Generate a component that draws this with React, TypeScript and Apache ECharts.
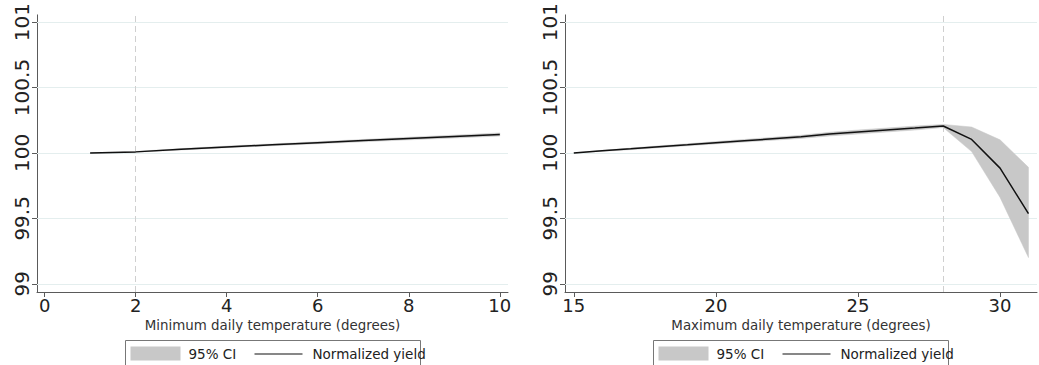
import React, { useEffect, useRef } from "react";
import * as echarts from "echarts";

// Left panel: minimum daily temperature
const minTemp = [1, 2, 3, 4, 5, 6, 7, 8, 9, 10];
const minYield = [100, 100.008, 100.028, 100.046, 100.062, 100.078, 100.094, 100.11, 100.125, 100.141];
const minLower = [100, 100.005, 100.023, 100.04, 100.055, 100.07, 100.085, 100.1, 100.114, 100.129];
const minUpper = [100, 100.011, 100.033, 100.052, 100.069, 100.086, 100.103, 100.12, 100.136, 100.153];

// Right panel: maximum daily temperature
const maxTemp = [15, 16, 17, 18, 19, 20, 21, 22, 23, 24, 25, 26, 27, 28, 29, 30, 31];
const maxYield = [100, 100.016, 100.031, 100.047, 100.062, 100.078, 100.093, 100.108, 100.123, 100.144, 100.16, 100.175, 100.19, 100.206, 100.103, 99.884, 99.536];
const maxLower = [100, 100.012, 100.025, 100.04, 100.054, 100.069, 100.083, 100.097, 100.111, 100.13, 100.145, 100.16, 100.175, 100.194, 100.01, 99.66, 99.2];
const maxUpper = [100, 100.02, 100.037, 100.054, 100.07, 100.087, 100.103, 100.119, 100.135, 100.158, 100.175, 100.19, 100.205, 100.218, 100.198, 100.1, 99.89];

const minTicks = [0, 2, 4, 6, 8, 10];
const maxTicks = [15, 20, 25, 30];
const yTicks = [99, 99.5, 100, 100.5, 101];
const minThreshold = 2;
const maxThreshold = 28;
const xTitles = ["Minimum daily temperature (degrees)", "Maximum daily temperature (degrees)"];
const legendLabels = ["95% CI", "Normalized yield"];

const FONT = "DejaVu Sans";
const AXIS_COLOR = "#5a5a5a";
const GRID_COLOR = "#e4eeee";
const BAND_COLOR = "#c8c8c8";

export default function App() {
  const ref = useRef<HTMLDivElement>(null);

  useEffect(() => {
    if (!ref.current) return;
    const chart = echarts.init(ref.current, undefined, { renderer: "svg" });

    const panels = [
      { x: minTemp, y: minYield, lo: minLower, hi: minUpper, ticks: minTicks, thr: minThreshold, xmin: -0.167, xmax: 10.18 },
      { x: maxTemp, y: maxYield, lo: maxLower, hi: maxUpper, ticks: maxTicks, thr: maxThreshold, xmin: 14.69, xmax: 31.3 },
    ];

    const grids = [
      { left: 37, top: 12, width: 471, height: 280 },
      { left: 565, top: 12, width: 472, height: 280 },
    ];

    const xAxes = panels.map((p, i) => ({
      type: "value",
      gridIndex: i,
      min: p.xmin,
      max: p.xmax,
      name: xTitles[i],
      nameLocation: "middle",
      nameGap: 26,
      nameTextStyle: { fontFamily: FONT, fontSize: 13.4, color: "#333" },
      axisLine: { show: true, onZero: false, lineStyle: { color: AXIS_COLOR, width: 1 } },
      axisTick: { show: true, length: 5, customValues: p.ticks, lineStyle: { color: AXIS_COLOR } },
      axisLabel: { customValues: p.ticks, fontFamily: FONT, fontSize: 18, color: "#222", margin: 4 },
      splitLine: { show: false },
    }));

    const yAxes = panels.map((_, i) => ({
      type: "value",
      gridIndex: i,
      min: 98.937,
      max: 101.055,
      axisLine: { show: true, onZero: false, lineStyle: { color: AXIS_COLOR, width: 1 } },
      axisTick: { show: true, length: 5, customValues: yTicks, lineStyle: { color: AXIS_COLOR } },
      axisLabel: {
        customValues: yTicks,
        rotate: 90,
        fontFamily: FONT,
        fontSize: 20,
        color: "#222",
        margin: 5,
        formatter: (v: number) => String(v),
      },
      splitLine: { show: false },
    }));

    const series: any[] = [];
    panels.forEach((p, i) => {
      const bandData = p.x.map((x, k) => [x, p.lo[k], p.hi[k]]);
      series.push({
        type: "custom",
        name: legendLabels[0],
        xAxisIndex: i,
        yAxisIndex: i,
        data: bandData,
        z: 2,
        renderItem: (params: any, api: any) => {
          if (params.dataIndex !== 0) return null;
          const upper = bandData.map((d) => api.coord([d[0], d[2]]));
          const lower = bandData.map((d) => api.coord([d[0], d[1]])).reverse();
          return {
            type: "polygon",
            shape: { points: upper.concat(lower) },
            style: { fill: BAND_COLOR, stroke: BAND_COLOR, lineWidth: 0.5 },
          };
        },
        markLine: {
          silent: true,
          symbol: "none",
          label: { show: false },
          z: 1,
          data: [
            ...yTicks.map((t) => ({ yAxis: t, lineStyle: { color: GRID_COLOR, width: 1, type: "solid" } })),
            { xAxis: p.thr, lineStyle: { color: "#cfcfcf", width: 1, type: [6, 4] } },
          ],
        },
      });
      series.push({
        type: "line",
        xAxisIndex: i,
        yAxisIndex: i,
        name: legendLabels[1],
        data: p.x.map((x, k) => [x, p.y[k]]),
        symbol: "none",
        lineStyle: { color: "#111", width: 1.5 },
        z: 3,
      });
    });

    const legendChildren = () => [
      { type: "rect", shape: { x: 0, y: 0, width: 295, height: 30 }, style: { fill: "#fff", stroke: "#777", lineWidth: 1 } },
      { type: "rect", shape: { x: 5, y: 6, width: 50, height: 14 }, style: { fill: BAND_COLOR } },
      { type: "text", x: 63, y: 13.5, style: { text: legendLabels[0], font: `13.5px "${FONT}"`, fill: "#222", verticalAlign: "middle" } },
      { type: "line", shape: { x1: 129, y1: 13.5, x2: 177, y2: 13.5 }, style: { stroke: "#111", lineWidth: 1.2 } },
      { type: "text", x: 187, y: 13.5, style: { text: legendLabels[1], font: `13.5px "${FONT}"`, fill: "#222", verticalAlign: "middle" } },
    ];

    chart.setOption({
      animation: false,
      backgroundColor: "#fff",
      grid: grids,
      xAxis: xAxes,
      yAxis: yAxes,
      series,
      graphic: [
        { type: "group", left: 125, top: 340, children: legendChildren() },
        { type: "group", left: 653, top: 340, children: legendChildren() },
      ],
    });

    return () => chart.dispose();
  }, []);

  return <div ref={ref} style={{ position: "fixed", left: 0, top: 0, width: 1039, height: 365 }} />;
}
